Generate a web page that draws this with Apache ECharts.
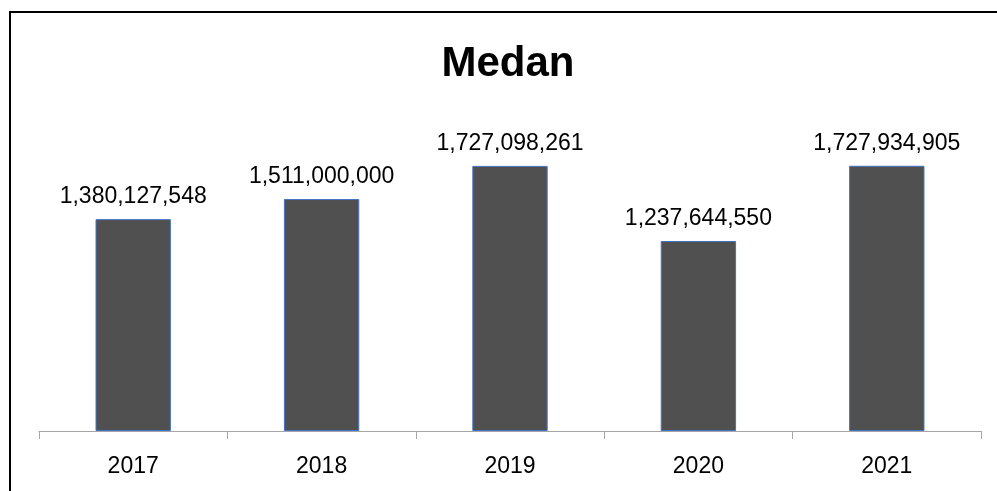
<!DOCTYPE html>
<html><head><meta charset="utf-8">
<script src="https://cdn.jsdelivr.net/npm/echarts@6/dist/echarts.min.js"></script>
<style>
html,body{margin:0;padding:0;background:#fff;}
#wrap{position:relative;width:997px;height:491px;overflow:hidden;}
#frame{position:absolute;left:9px;top:11px;width:1100px;height:600px;border:2px solid #000;box-sizing:border-box;}
#chart{position:absolute;left:0;top:0;width:997px;height:491px;}
</style></head>
<body><div id="wrap"><div id="frame"></div><div id="chart"></div></div>
<script>
const categories = ['2017','2018','2019','2020','2021'];
const values = [1380127548, 1511000000, 1727098261, 1237644550, 1727934905];
const titleText = 'Medan';

const chart = echarts.init(document.getElementById('chart'));
const fmt = v => v.toString().replace(/\B(?=(\d{3})+(?!\d))/g, ',');
chart.setOption({
  animation: false,
  title: {text: titleText, left: 503, textAlign: 'center', top: 38,
    textStyle: {fontFamily: 'Liberation Sans', fontWeight: 'bold', fontSize: 42, color: '#000'}},
  grid: {left: 39, right: 16, top: 124, bottom: 60},
  xAxis: {type: 'category', data: categories,
    axisLine: {lineStyle: {color: '#a6a6a6', width: 1}},
    axisTick: {show: true, length: 8, lineStyle: {color: '#a6a6a6'}},
    axisLabel: {fontFamily: 'Liberation Sans', fontSize: 23, color: '#000', margin: 24}},
  yAxis: {type: 'value', min: 0, max: 2000000000, show: false, splitLine: {show: false}},
  series: [{type: 'bar', data: values, barWidth: '40%',
    itemStyle: {color: '#505050', borderColor: '#4472c4', borderWidth: 1},
    label: {show: true, position: 'top', distance: 11, formatter: p => fmt(p.value),
      fontFamily: 'Liberation Sans', fontSize: 23, color: '#000'}}]
});
</script></body></html>
